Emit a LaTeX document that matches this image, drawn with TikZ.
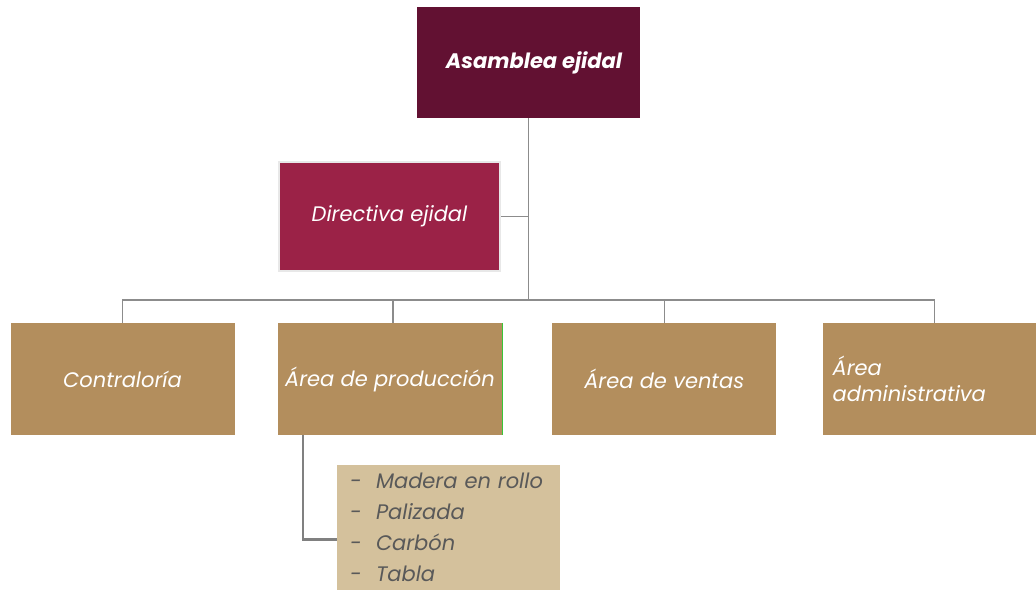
\documentclass[tikz,border=0pt]{standalone}
\usepackage{fontspec}
\setmainfont{Poppins}
\usetikzlibrary{positioning,calc}
\definecolor{guinda}{HTML}{621132}
\definecolor{vino}{HTML}{9B2247}
\definecolor{dorado}{HTML}{B38E5D}
\definecolor{arena}{HTML}{D4C19C}
\definecolor{linea}{HTML}{8C8C8C}
\definecolor{textolista}{HTML}{595959}
\tikzset{
  box/.style      = {rectangle, inner sep=0pt, text=white, font=\itshape\fontsize{21}{26}\selectfont},
  head/.style     = {box, fill=guinda, minimum width=223pt, minimum height=111pt, font=\bfseries\itshape\fontsize{21}{26}\selectfont},
  board/.style    = {box, fill=vino, draw=black!9, line width=2pt, minimum width=221pt, minimum height=109pt},
  area/.style     = {box, fill=dorado, minimum width=224pt, minimum height=112pt, node distance=46pt},
  arealeft/.style = {area, align=left, inner xsep=10pt, text width=204pt},
  products/.style = {rectangle, fill=arena, minimum width=223pt, minimum height=125pt, inner xsep=13pt,
                     text width=197pt, align=left, text=textolista, font=\itshape\fontsize{21}{31}\selectfont},
  conn/.style     = {draw=linea, line width=1.3pt},
  thickconn/.style= {draw=black!50, line width=2.4pt}
}
\newcommand{\itemdash}[1]{\makebox[26pt][l]{-}#1}

\begin{document}
\begin{tikzpicture}[x=1pt,y=1pt]
      \useasboundingbox (0,0) rectangle (1036,-591);
      \node[head] (asamblea) at (528.5,-62.5) {\hspace{11pt}Asamblea ejidal};
      \node[board] (directiva) at (389.5,-216.5) {Directiva ejidal};
      \node[area] (contraloria) at (122.5,-379) {Contraloría};
      \node[area] (produccion) [right=43pt of contraloria] {Área de producción};
      \node[area] (ventas) [right=50pt of produccion] {Área de ventas};
      \node[arealeft] (admin) [right=of ventas] {Área\\administrativa};
      \node[products] (lista) at (448.5,-527.5)
        {\itemdash{Madera en rollo}\\ \itemdash{Palizada}\\ \itemdash{Carbón}\\ \itemdash{Tabla}};
      %Connectors
      \coordinate (bus) at (asamblea.south |- 0,-300);
      \draw[conn] (asamblea.south) -- (bus);
      \draw[conn] (directiva.east) -- (directiva.east -| bus);
      \foreach \n/\dx in {contraloria/0,produccion/3,ventas/0,admin/0}
        \draw[conn] ([xshift=\dx pt]\n.north) |- (bus);
      \draw[thickconn] ([xshift=-87pt]produccion.south) |- ([yshift=-12pt]lista.west);
      \draw[green!55!gray, line width=1pt] (produccion.north east) -- (produccion.south east);
\end{tikzpicture}
\end{document}
